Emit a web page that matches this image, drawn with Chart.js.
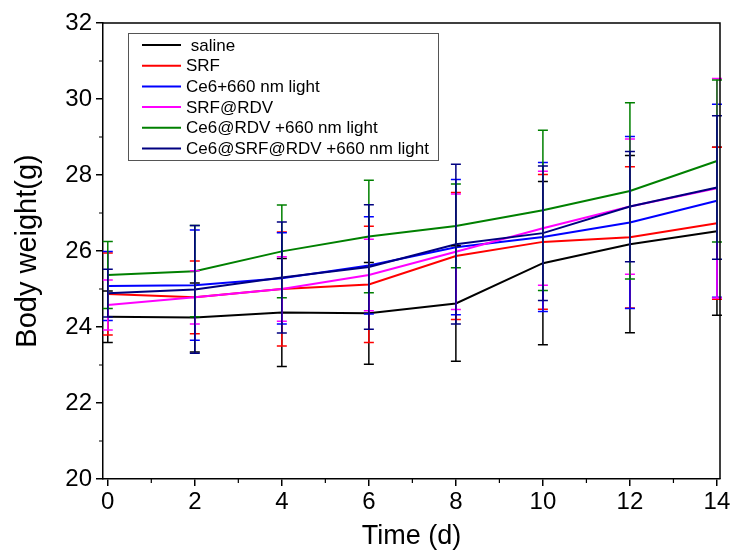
<!DOCTYPE html>
<html><head><meta charset="utf-8">
<script src="https://cdn.jsdelivr.net/npm/chart.js@4"></script>
<style>html,body{margin:0;padding:0;background:#fff;} canvas{display:block;}</style>
</head><body>
<canvas id="c" width="733" height="558"></canvas>
<script>
// ---- data ----
const days = [0, 2, 4, 6, 8, 10, 12, 14];
const xTickValues = [0, 2, 4, 6, 8, 10, 12, 14];
const yTickValues = [20, 22, 24, 26, 28, 30, 32];
const seriesNames = [" saline", "SRF", "Ce6+660 nm light", "SRF@RDV", "Ce6@RDV +660 nm light", "Ce6@SRF@RDV +660 nm light"];

const salineMean = [24.27, 24.25, 24.38, 24.36, 24.62, 25.68, 26.18, 26.52];
const salineErr  = [0.68, 0.91, 1.42, 1.34, 1.52, 2.15, 2.33, 2.21];
const srfMean    = [24.87, 24.78, 25.00, 25.12, 25.87, 26.24, 26.36, 26.73];
const srfErr     = [1.08, 0.96, 1.50, 1.53, 1.67, 1.77, 1.86, 2.00];
const ce6Mean    = [25.08, 25.10, 25.28, 25.62, 26.10, 26.37, 26.75, 27.32];
const ce6Err     = [0.91, 1.45, 1.20, 1.28, 1.78, 1.96, 2.26, 2.54];
const srfRdvMean = [24.58, 24.78, 25.00, 25.37, 25.98, 26.60, 27.17, 27.65];
const srfRdvErr  = [0.66, 0.70, 0.85, 0.94, 1.52, 1.50, 1.78, 2.89];
const ce6RdvMean = [25.37, 25.47, 25.99, 26.38, 26.66, 27.07, 27.58, 28.37];
const ce6RdvErr  = [0.88, 1.20, 1.22, 1.48, 1.10, 2.11, 2.32, 2.13];
const allMean    = [24.89, 24.99, 25.30, 25.58, 26.18, 26.47, 27.17, 27.67];
const allErr     = [0.63, 1.68, 1.46, 1.64, 2.10, 1.77, 1.45, 1.89];

const seriesMeans = [salineMean, srfMean, ce6Mean, srfRdvMean, ce6RdvMean, allMean];
const seriesErrs  = [salineErr, srfErr, ce6Err, srfRdvErr, ce6RdvErr, allErr];
const colors = ['#000000', '#ff0000', '#0000ff', '#ff00ff', '#008000', '#000080'];

const FONT = "'Liberation Sans', Arial, sans-serif";

const datasets = seriesMeans.map((m, i) => ({
  label: seriesNames[i],
  data: days.map((d, j) => ({x: d, y: m[j]})),
  borderColor: colors[i],
  backgroundColor: colors[i],
  borderWidth: 2,
  pointRadius: 0,
  tension: 0,
  order: seriesMeans.length - i,
  errs: seriesErrs[i]
}));

const errorBars = {
  id: 'errorBars',
  afterDatasetsDraw(chart) {
    const ctx = chart.ctx, xs = chart.scales.x, ys = chart.scales.y;
    chart.data.datasets.forEach(ds => {
      ctx.save();
      ctx.strokeStyle = ds.borderColor;
      ctx.lineWidth = 1.5;
      ds.data.forEach((p, j) => {
        const x = xs.getPixelForValue(p.x);
        const y1 = ys.getPixelForValue(p.y + ds.errs[j]);
        const y2 = ys.getPixelForValue(p.y - ds.errs[j]);
        ctx.beginPath();
        ctx.moveTo(x, y1); ctx.lineTo(x, y2);
        ctx.moveTo(x - 5, y1); ctx.lineTo(x + 5, y1);
        ctx.moveTo(x - 5, y2); ctx.lineTo(x + 5, y2);
        ctx.stroke();
      });
      ctx.restore();
    });
  }
};

const frameAndMinor = {
  id: 'frameAndMinor',
  afterDraw(chart) {
    const ctx = chart.ctx, a = chart.chartArea, xs = chart.scales.x, ys = chart.scales.y;
    ctx.save();
    ctx.strokeStyle = '#000';
    ctx.lineWidth = 1.5;
    ctx.beginPath();
    ctx.moveTo(a.left, a.top); ctx.lineTo(a.right, a.top); ctx.lineTo(a.right, a.bottom);
    ctx.stroke();
    ctx.lineWidth = 1.2;
    ctx.beginPath();
    for (let i = 0; i < xTickValues.length - 1; i++) {
      const v = (xTickValues[i] + xTickValues[i + 1]) / 2;
      const x = xs.getPixelForValue(v);
      ctx.moveTo(x, a.bottom); ctx.lineTo(x, a.bottom + 4);
    }
    for (let i = 0; i < yTickValues.length - 1; i++) {
      const v = (yTickValues[i] + yTickValues[i + 1]) / 2;
      const y = ys.getPixelForValue(v);
      ctx.moveTo(a.left, y); ctx.lineTo(a.left - 4, y);
    }
    ctx.stroke();
    // legend
    const lx = 128, ly = 33, lw = 310, lh = 127;
    ctx.fillStyle = '#fff';
    ctx.fillRect(lx, ly, lw, lh);
    ctx.strokeStyle = '#555';
    ctx.lineWidth = 1;
    ctx.strokeRect(lx + 0.5, ly + 0.5, lw, lh);
    ctx.font = '17px ' + FONT;
    ctx.textBaseline = 'middle';
    chart.data.datasets.forEach((ds, i) => {
      const y = 45 + i * 20.7;
      ctx.strokeStyle = ds.borderColor;
      ctx.lineWidth = 2;
      ctx.beginPath(); ctx.moveTo(142, y); ctx.lineTo(181, y); ctx.stroke();
      ctx.fillStyle = '#000';
      ctx.fillText(ds.label, 186, y + 1);
    });
    ctx.restore();
  }
};

new Chart(document.getElementById('c'), {
  type: 'line',
  data: { datasets },
  options: {
    responsive: false,
    animation: false,
    devicePixelRatio: 1,
    layout: { padding: { left: 0, top: 23, right: 13, bottom: 0 } },
    plugins: { legend: { display: false }, tooltip: { enabled: false } },
    scales: {
      x: {
        type: 'linear',
        min: -0.11, max: 14.07,
        afterBuildTicks: s => { s.ticks = xTickValues.map(v => ({value: v})); },
        afterFit: s => { s.height = 79; },
        grid: { display: true, drawOnChartArea: false, drawTicks: true, tickLength: 7, color: '#000', lineWidth: 1.5 },
        border: { display: true, color: '#000', width: 1.5 },
        ticks: { color: '#000', font: { family: FONT, size: 24 }, padding: 2, maxRotation: 0 },
        title: { display: true, text: 'Time (d)', color: '#000', font: { family: FONT, size: 27 }, padding: { top: 0, bottom: 5 } }
      },
      y: {
        type: 'linear',
        min: 20, max: 32,
        afterBuildTicks: s => { s.ticks = yTickValues.map(v => ({value: v})); },
        afterFit: s => { s.width = 103; },
        grid: { display: true, drawOnChartArea: false, drawTicks: true, tickLength: 7, color: '#000', lineWidth: 1.5 },
        border: { display: true, color: '#000', width: 1.5 },
        ticks: { color: '#000', font: { family: FONT, size: 24 }, padding: 4 },
        title: { display: true, text: 'Body weight(g)', color: '#000', font: { family: FONT, size: 29 }, padding: { top: 11, bottom: 0 } }
      }
    }
  },
  plugins: [errorBars, frameAndMinor]
});
</script>
</body></html>
